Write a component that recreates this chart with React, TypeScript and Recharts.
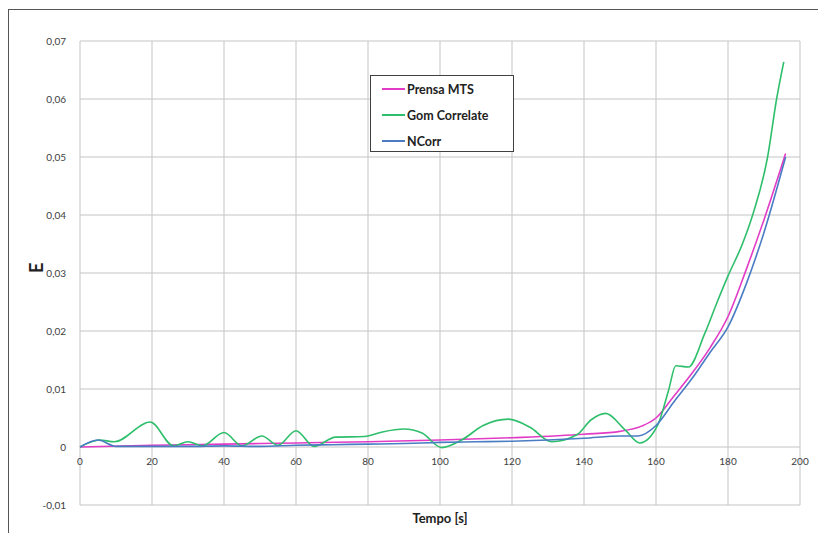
import React from "react";
import {
  LineChart,
  Line,
  XAxis,
  YAxis,
  CartesianGrid,
} from "recharts";

// Reference values (E vs Tempo [s])
const mtsTime = [0, 20, 40, 60, 80, 100, 120, 140, 150, 156, 160, 165, 170, 175, 180, 185, 190, 196];
const mtsE = [0, 0.0003, 0.0005, 0.0007, 0.0009, 0.0012, 0.0016, 0.0022, 0.0027, 0.0036, 0.005, 0.0088, 0.0127, 0.0171, 0.0225, 0.0305, 0.0392, 0.0506];

const gomTime = [0, 5.5, 9.5, 19.5, 26, 30, 34, 40, 45, 50.5, 55, 60, 65, 71, 79, 84, 90, 95, 100.5, 106, 112, 119, 125, 131, 138, 142, 146, 151.5, 155.5, 160.5, 163.5, 165.5, 169, 173.5, 177, 180, 184, 187, 191, 193.5, 195.5];
const gomE = [0, 0.0012, 0.0009, 0.0043, 0.0002, 0.0009, 0.0002, 0.0025, 0.0002, 0.0019, 0.0003, 0.0028, 0.0001, 0.0017, 0.0018, 0.0026, 0.0031, 0.0024, -0.0001, 0.0012, 0.0037, 0.0048, 0.0034, 0.0009, 0.0021, 0.0047, 0.0058, 0.0029, 0.0007, 0.0038, 0.0098, 0.014, 0.0138, 0.0195, 0.025, 0.0295, 0.035, 0.0403, 0.05, 0.06, 0.0664];

const ncorrTime = [0, 5, 10, 20, 30, 40, 50, 60, 70, 80, 90, 100, 110, 120, 130, 140, 150, 155, 160, 165, 170, 175, 180, 185, 190, 196];
const ncorrE = [0, 0.0012, 0.0001, 0.0001, 0.0001, 0.0002, 0.0001, 0.0003, 0.0004, 0.0005, 0.0006, 0.0008, 0.0009, 0.001, 0.0012, 0.0015, 0.0019, 0.0019, 0.0037, 0.0078, 0.0118, 0.0163, 0.0207, 0.028, 0.037, 0.05];

const xTicks = [0, 20, 40, 60, 80, 100, 120, 140, 160, 180, 200];
const yTicks = [-0.01, 0, 0.01, 0.02, 0.03, 0.04, 0.05, 0.06, 0.07];

const seriesNames = ["Prensa MTS", "Gom Correlate", "NCorr"];
const seriesColors = ["#e23cc6", "#2fbf6c", "#4a7cc4"];

const toPoints = (t: number[], e: number[]) => t.map((x, i) => ({ t: x, e: e[i] }));
const mtsData = toPoints(mtsTime, mtsE);
const gomData = toPoints(gomTime, gomE);
const ncorrData = toPoints(ncorrTime, ncorrE);

const fmtY = (v: number) => (Math.abs(v) < 1e-9 ? "0" : v.toFixed(2).replace(".", ","));

const FONT = "Lato, 'Open Sans', sans-serif";

// x tick labels sit under the y=0 line (Excel axis crosses at 0), not at the plot bottom
function XTick(props: any) {
  const { x, y, payload } = props;
  return (
    <text x={x} y={y - 48} textAnchor="middle" fontSize={10} fill="#404040" fontFamily={FONT}>
      {payload.value}
    </text>
  );
}

// legend drawn as a plain overlay box so it doesn't eat plot space
function LegendBox() {
  return (
    <div
      style={{
        position: "absolute",
        left: 370,
        top: 75,
        width: 142,
        height: 75,
        border: "1px solid #404040",
        background: "#fff",
        fontFamily: FONT,
        fontWeight: 700,
        fontSize: 12.5,
        color: "#222",
      }}
    >
      {seriesNames.map((n, i) => (
        <div key={n} style={{ display: "flex", alignItems: "center", height: 26, paddingLeft: 11 }}>
          <span style={{ display: "inline-block", width: 23, height: 2, background: seriesColors[i], marginRight: 2 }} />
          <span>{n}</span>
        </div>
      ))}
    </div>
  );
}

export default function App() {
  return (
    <div style={{ position: "absolute", left: 0, top: 0, width: 818, height: 533, background: "#fff", overflow: "hidden" }}>
      <div
        style={{
          position: "absolute",
          left: 8,
          top: 9,
          width: 830,
          height: 560,
          border: "1px solid #555",
        }}
      />
      <div style={{ position: "absolute", left: 0, top: 0 }}>
        <LineChart width={818} height={533} margin={{ top: 41, right: 18, bottom: 0, left: 0 }}>
          <CartesianGrid stroke="#c4c4c4" strokeWidth={1} />
          <XAxis
            dataKey="t"
            type="number"
            domain={[0, 200]}
            ticks={xTicks}
            allowDuplicatedCategory={false}
            axisLine={false}
            tickLine={false}
            height={28}
            tick={<XTick />}
            label={{
              value: "Tempo [s]",
              position: "insideBottom",
              offset: 10,
              style: { fontFamily: FONT, fontWeight: 700, fontSize: 13, fill: "#222" },
            }}
          />
          <YAxis
            dataKey="e"
            type="number"
            domain={[-0.01, 0.07]}
            ticks={yTicks}
            tickFormatter={fmtY}
            axisLine={false}
            tickLine={false}
            width={80}
            tickMargin={8}
            tick={{ fontSize: 10, fill: "#404040", fontFamily: FONT }}
            label={{
              value: "E",
              angle: -90,
              position: "insideLeft",
              offset: 37,
              style: { fontFamily: FONT, fontWeight: 700, fontSize: 18, fill: "#222" },
            }}
          />
          <Line data={mtsData} dataKey="e" name={seriesNames[0]} type="monotone" stroke={seriesColors[0]} strokeWidth={1.6} dot={false} isAnimationActive={false} />
          <Line data={gomData} dataKey="e" name={seriesNames[1]} type="monotone" stroke={seriesColors[1]} strokeWidth={1.6} dot={false} isAnimationActive={false} />
          <Line data={ncorrData} dataKey="e" name={seriesNames[2]} type="monotone" stroke={seriesColors[2]} strokeWidth={1.6} dot={false} isAnimationActive={false} />
        </LineChart>
      </div>
      <LegendBox />
    </div>
  );
}
